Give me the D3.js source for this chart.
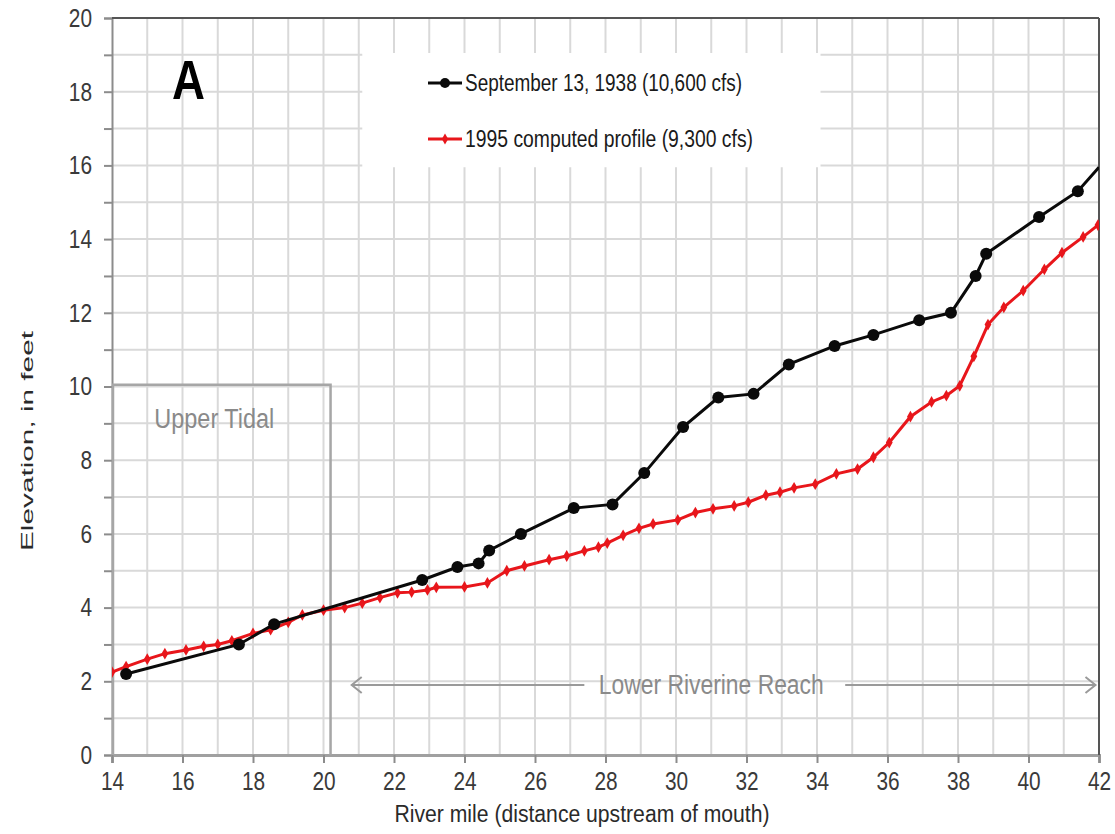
<!DOCTYPE html>
<html>
<head>
<meta charset="utf-8">
<script src="https://cdn.jsdelivr.net/npm/d3@7"></script>
<style>
  html, body { margin: 0; padding: 0; background: #fff; overflow: hidden; }
  svg { display: block; }
  svg text { font-family: "Liberation Sans", Arial, sans-serif; }
</style>
</head>
<body>
<div id="graphDiv"></div>
<script>
// river mile / elevation
var mile1938 = [14.4, 17.6, 18.6, 22.8, 23.8, 24.4, 24.7, 25.6, 27.1, 28.2, 29.1, 30.2, 31.2, 32.2, 33.2, 34.5, 35.6, 36.9, 37.8, 38.5, 38.8, 40.3, 41.4, 42.0];
var elev1938 = [2.2, 3.0, 3.55, 4.75, 5.1, 5.2, 5.55, 6.0, 6.7, 6.8, 7.65, 8.9, 9.7, 9.8, 10.6, 11.1, 11.4, 11.8, 12.0, 13.0, 13.6, 14.6, 15.3, 15.95];

var mile1995 = [14.0, 14.4, 15.0, 15.5, 16.1, 16.6, 17.0, 17.4, 18.0, 18.5, 19.0, 19.4, 20.0, 20.6, 21.1, 21.6, 22.1, 22.5, 22.95, 23.2, 24.0, 24.65,
  25.2, 25.7, 26.4, 26.9, 27.4, 27.8, 28.05, 28.5, 28.95, 29.35, 30.05, 30.55, 31.05, 31.65, 32.05, 32.55, 32.95, 33.35, 33.95, 34.55,
  35.15, 35.6, 36.05, 36.65, 37.25, 37.67, 38.05, 38.45, 38.85, 39.3, 39.85, 40.45, 40.95, 41.55, 41.97];
var elev1995 = [2.25, 2.4, 2.6, 2.75, 2.85, 2.95, 3.0, 3.1, 3.3, 3.4, 3.6, 3.8, 3.93, 4.0, 4.12, 4.27, 4.4, 4.42, 4.48, 4.55, 4.56, 4.67,
  5.0, 5.13, 5.3, 5.4, 5.54, 5.64, 5.75, 5.96, 6.15, 6.27, 6.38, 6.58, 6.68, 6.76, 6.86, 7.05, 7.13, 7.25, 7.35, 7.63,
  7.76, 8.08, 8.48, 9.18, 9.58, 9.75, 10.02, 10.82, 11.68, 12.15, 12.6, 13.18, 13.63, 14.06, 14.38];

var xTicks = [14, 16, 18, 20, 22, 24, 26, 28, 30, 32, 34, 36, 38, 40, 42];
var yTicks = [0, 2, 4, 6, 8, 10, 12, 14, 16, 18, 20];
var seriesNames = ["September 13, 1938 (10,600 cfs)", "1995 computed profile (9,300 cfs)"];

// reach annotations (river miles / feet)
var tidalBox = {x0: 14, x1: 20.2, top: 10.05};
var riverineArrow = {y: 1.9, x0: 20.8, gapStart: 27.4, gapEnd: 34.8, x1: 41.9, label: 31.0};

var outerWidth = 1115, outerHeight = 834;
var margin = {top: 18, right: 16, bottom: 79, left: 112},
    innerWidth = outerWidth - margin.left - margin.right,
    innerHeight = outerHeight - margin.top - margin.bottom;

// the original uses a narrow font, so squeeze text to its measured width
function squeeze(sel, w) {
  sel.attr("textLength", w).attr("lengthAdjust", "spacingAndGlyphs");
}

var svg = d3.select("#graphDiv")
    .append("svg")
    .attr("width", outerWidth)
    .attr("height", outerHeight)
    .append("g")
    .attr("transform", "translate(" + margin.left + "," + margin.top + ")");

var x = d3.scaleLinear().domain([14, 42]).range([0, innerWidth]);
var y = d3.scaleLinear().domain([0, 20]).range([innerHeight, 0]);

var gridColor = "#d9d9d9";

// grid every mile and every foot
svg.append("g").selectAll("line")
    .data(d3.range(15, 42))
    .enter().append("line")
    .attr("x1", function(d) { return x(d); })
    .attr("x2", function(d) { return x(d); })
    .attr("y1", 0).attr("y2", innerHeight)
    .attr("stroke", gridColor).attr("stroke-width", 2);

svg.append("g").selectAll("line")
    .data(d3.range(1, 20))
    .enter().append("line")
    .attr("x1", 0).attr("x2", innerWidth)
    .attr("y1", function(d) { return y(d); })
    .attr("y2", function(d) { return y(d); })
    .attr("stroke", gridColor).attr("stroke-width", 2);

// white legend box hides the grid behind it
svg.append("rect")
    .attr("x", x(21.1)).attr("y", y(19.05))
    .attr("width", x(27.0) - x(14)).attr("height", y(15.95) - y(19.05))
    .attr("fill", "#fff");

// y axis
var yAxis = svg.append("g")
    .call(d3.axisLeft(y).tickValues(d3.range(0, 21)).tickSize(8).tickPadding(12)
        .tickFormat(function(d) { return yTicks.indexOf(d) >= 0 ? d : ""; }));
yAxis.select(".domain").attr("stroke", "#8c8c8c").attr("stroke-width", 2);
yAxis.selectAll(".tick line").attr("stroke", "#8c8c8c").attr("stroke-width", 2);
yAxis.selectAll(".tick").filter(function(d) { return yTicks.indexOf(d) < 0; }).select("text").remove();
yAxis.selectAll("text").attr("font-size", 26).attr("fill", "#3a3a3a")
    .style("font-family", "'Liberation Sans', Arial, sans-serif")
    .each(function(d) { squeeze(d3.select(this), 11.6 * String(d).length); });

// x axis
var xAxis = svg.append("g")
    .attr("transform", "translate(0," + innerHeight + ")")
    .call(d3.axisBottom(x).tickValues(xTicks).tickSize(8).tickPadding(9));
xAxis.select(".domain").attr("stroke", "#a0a0a0").attr("stroke-width", 3);
xAxis.selectAll(".tick line").attr("stroke", "#8c8c8c").attr("stroke-width", 2);
xAxis.selectAll("text").attr("font-size", 26).attr("fill", "#3a3a3a")
    .style("font-family", "'Liberation Sans', Arial, sans-serif")
    .each(function(d) { squeeze(d3.select(this), 11.6 * String(d).length); });

// top and right frame
svg.append("line").attr("x1", 0).attr("x2", innerWidth).attr("y1", 0).attr("y2", 0)
    .attr("stroke", "#555").attr("stroke-width", 2);
svg.append("line").attr("x1", innerWidth).attr("x2", innerWidth).attr("y1", 0).attr("y2", innerHeight)
    .attr("stroke", "#555").attr("stroke-width", 2);

// Upper Tidal box
svg.append("path")
    .attr("d", "M" + x(tidalBox.x0) + "," + y(tidalBox.top) + "H" + x(tidalBox.x1) + "V" + y(0))
    .attr("fill", "none").attr("stroke", "#a6a6a6").attr("stroke-width", 2.5);
svg.append("line")
    .attr("x1", x(tidalBox.x0) + 1).attr("x2", x(tidalBox.x0) + 1)
    .attr("y1", y(tidalBox.top)).attr("y2", y(0))
    .attr("stroke", "#a6a6a6").attr("stroke-width", 2.5);
svg.append("text")
    .attr("x", x(15.2)).attr("y", y(8.87))
    .attr("font-size", 27).attr("fill", "#8a8a8a")
    .text("Upper Tidal")
    .call(squeeze, 120);

// Lower Riverine Reach arrow
var ay = y(riverineArrow.y);
var arrowStroke = "#9a9a9a";
svg.append("line").attr("x1", x(riverineArrow.x0)).attr("x2", x(riverineArrow.gapStart))
    .attr("y1", ay).attr("y2", ay).attr("stroke", arrowStroke).attr("stroke-width", 2);
svg.append("line").attr("x1", x(riverineArrow.gapEnd)).attr("x2", x(riverineArrow.x1))
    .attr("y1", ay).attr("y2", ay).attr("stroke", arrowStroke).attr("stroke-width", 2);
svg.append("path")
    .attr("d", "M" + (x(riverineArrow.x0) + 10) + "," + (ay - 8) + "L" + x(riverineArrow.x0) + "," + ay + "L" + (x(riverineArrow.x0) + 10) + "," + (ay + 8))
    .attr("fill", "none").attr("stroke", arrowStroke).attr("stroke-width", 2);
svg.append("path")
    .attr("d", "M" + (x(riverineArrow.x1) - 10) + "," + (ay - 8) + "L" + x(riverineArrow.x1) + "," + ay + "L" + (x(riverineArrow.x1) - 10) + "," + (ay + 8))
    .attr("fill", "none").attr("stroke", arrowStroke).attr("stroke-width", 2);
svg.append("text")
    .attr("x", x(riverineArrow.label)).attr("y", ay + 9)
    .attr("text-anchor", "middle")
    .attr("font-size", 27).attr("fill", "#8a8a8a")
    .text("Lower Riverine Reach")
    .call(squeeze, 225);

// data
var data1938 = mile1938.map(function(m, i) { return {x: m, y: elev1938[i]}; });
var data1995 = mile1995.map(function(m, i) { return {x: m, y: elev1995[i]}; });

svg.append("clipPath").attr("id", "plotClip")
    .append("rect").attr("width", innerWidth).attr("height", innerHeight);

var line = d3.line()
    .x(function(d) { return x(d.x); })
    .y(function(d) { return y(d.y); });

var plot = svg.append("g").attr("clip-path", "url(#plotClip)");

plot.append("path").datum(data1995)
    .attr("d", line).attr("fill", "none")
    .attr("stroke", "#e8161b").attr("stroke-width", 3);
plot.selectAll(".redpt")
    .data(data1995)
    .enter().append("path")
    .attr("class", "redpt")
    .attr("transform", function(d) { return "translate(" + x(d.x) + "," + y(d.y) + ")"; })
    .attr("d", d3.symbol().type(d3.symbolDiamond).size(40))
    .attr("fill", "#e8161b");

plot.append("path").datum(data1938)
    .attr("d", line).attr("fill", "none")
    .attr("stroke", "#0a0a0a").attr("stroke-width", 3);
// last point is where the line leaves the frame, no marker there
plot.selectAll(".blackpt")
    .data(data1938.slice(0, data1938.length - 1))
    .enter().append("circle")
    .attr("class", "blackpt")
    .attr("cx", function(d) { return x(d.x); })
    .attr("cy", function(d) { return y(d.y); })
    .attr("r", 6)
    .attr("fill", "#0a0a0a");

// legend
var legend = svg.append("g").attr("transform", "translate(" + (428 - margin.left) + "," + (83 - margin.top) + ")");
var legendColors = ["#0a0a0a", "#e8161b"];
var legendWidths = [277, 288];
seriesNames.forEach(function(name, i) {
  var row = legend.append("g").attr("transform", "translate(0," + (i * 56) + ")");
  row.append("line").attr("x1", 0).attr("x2", 34).attr("y1", 0).attr("y2", 0)
      .attr("stroke", legendColors[i]).attr("stroke-width", 3);
  if (i === 0) {
    row.append("circle").attr("cx", 17).attr("cy", 0).attr("r", 5).attr("fill", legendColors[i]);
  } else {
    row.append("path").attr("transform", "translate(17,0)")
        .attr("d", d3.symbol().type(d3.symbolDiamond).size(35)).attr("fill", legendColors[i]);
  }
  row.append("text").attr("x", 37).attr("y", 8)
      .attr("font-size", 23).attr("fill", "#1a1a1a")
      .text(name)
      .call(squeeze, legendWidths[i]);
});

// panel letter
svg.append("text")
    .attr("x", 172 - margin.left).attr("y", 99 - margin.top)
    .attr("font-size", 56).attr("font-weight", "bold").attr("fill", "#000")
    .text("A")
    .call(squeeze, 33);

// axis titles
svg.append("text")
    .attr("x", 582 - margin.left).attr("y", 822 - margin.top)
    .attr("text-anchor", "middle")
    .attr("font-size", 23).attr("fill", "#2a2a2a")
    .text("River mile (distance upstream of mouth)")
    .call(squeeze, 375);

svg.append("text")
    .attr("transform", "translate(" + (33 - margin.left) + "," + (441 - margin.top) + ")rotate(-90)")
    .attr("text-anchor", "middle")
    .attr("font-size", 17).attr("fill", "#2a2a2a")
    .text("Elevation, in feet")
    .call(squeeze, 220);
</script>
</body>
</html>
